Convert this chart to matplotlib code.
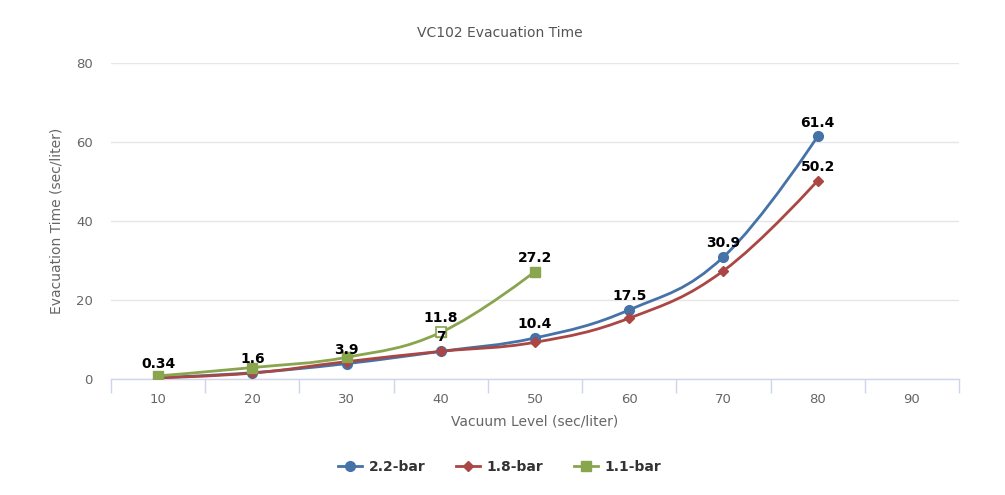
import matplotlib
matplotlib.use("Agg")

import matplotlib.pyplot as plt
from matplotlib.path import Path
from matplotlib.patches import PathPatch
from matplotlib.lines import Line2D

# Categories on the x axis (vacuum level)
CATEGORIES = ["10", "20", "30", "40", "50", "60", "70", "80", "90"]

# Series values (evacuation time, sec/liter)
SERIES_NAMES = ["2.2-bar", "1.8-bar", "1.1-bar"]
VALUES_22 = [0.34, 1.6, 3.9, 7, 10.4, 17.5, 30.9, 61.4]
VALUES_18 = [0.3, 1.5, 4.4, 7, 9.3, 15.4, 27.4, 50.2]
VALUES_11 = [0.8, 2.9, 5.5, 11.8, 27.2]

# Which points show their data label (the others are hidden by overlap)
LABELS_22 = [0, 1, 2, 3, 4, 5, 6, 7]
LABELS_18 = [7]
LABELS_11 = [3, 4]

COLORS = ["#4572A7", "#AA4643", "#89A54E"]
MARKERS = ["o", "D", "s"]
MARKER_SIZES = [7, 5, 6.5]

TITLE = "VC102 Evacuation Time"
X_TITLE = "Vacuum Level (sec/liter)"
Y_TITLE = "Evacuation Time (sec/liter)"
Y_TICKS = [0, 20, 40, 60, 80]


def spline_path(xs, ys, smoothing=1.5):
    """Bezier path through the points, in the same style as a Highcharts spline."""
    denom = smoothing + 1
    n = len(xs)
    left = [(xs[i], ys[i]) for i in range(n)]
    right = [(xs[i], ys[i]) for i in range(n)]
    for i in range(1, n - 1):
        lx = (smoothing * xs[i] + xs[i - 1]) / denom
        ly = (smoothing * ys[i] + ys[i - 1]) / denom
        rx = (smoothing * xs[i] + xs[i + 1]) / denom
        ry = (smoothing * ys[i] + ys[i + 1]) / denom
        if rx != lx:
            corr = (ry - ly) * (rx - xs[i]) / (rx - lx) + ys[i] - ry
            ly += corr
            ry += corr
        hi = max(ys[i - 1], ys[i])
        lo = min(ys[i - 1], ys[i])
        if ly > hi:
            ly = hi
            ry = 2 * ys[i] - ly
        elif ly < lo:
            ly = lo
            ry = 2 * ys[i] - ly
        hi = max(ys[i + 1], ys[i])
        lo = min(ys[i + 1], ys[i])
        if ry > hi:
            ry = hi
            ly = 2 * ys[i] - ry
        elif ry < lo:
            ry = lo
            ly = 2 * ys[i] - ry
        left[i] = (lx, ly)
        right[i] = (rx, ry)

    verts = [(xs[0], ys[0])]
    codes = [Path.MOVETO]
    for i in range(1, n):
        verts += [right[i - 1], left[i], (xs[i], ys[i])]
        codes += [Path.CURVE4] * 3
    return Path(verts, codes)


fig = plt.figure(figsize=(10.05, 4.95), dpi=100)
ax = fig.add_axes([0.1104, 0.2343, 0.8438, 0.6384])

plt.rcParams["font.family"] = ["DejaVu Sans"]

all_values = [VALUES_22, VALUES_18, VALUES_11]
all_labels = [LABELS_22, LABELS_18, LABELS_11]

handles = []
for values, labels, color, marker, ms, name in zip(
        all_values, all_labels, COLORS, MARKERS, MARKER_SIZES, SERIES_NAMES):
    xs = list(range(len(values)))
    patch = PathPatch(spline_path(xs, values), facecolor="none",
                      edgecolor=color, lw=2, zorder=3, capstyle="round")
    ax.add_patch(patch)
    ax.plot(xs, values, linestyle="none", marker=marker, markersize=ms,
            color=color, markeredgecolor=color, zorder=4)
    for i in labels:
        ax.annotate(f"{values[i]:g}", (xs[i], values[i]), xytext=(0, 5),
                    textcoords="offset points", ha="center", va="bottom",
                    fontsize=10, fontweight="bold", color="#000000", zorder=5)
    handles.append(Line2D([0], [0], color=color, lw=2, marker=marker,
                          markersize=ms, markeredgecolor=color))

# hovered point on the 1.1-bar series is drawn hollow
ax.plot([3], [VALUES_11[3]], linestyle="none", marker="s", markersize=6.5,
        markerfacecolor="white", markeredgecolor=COLORS[2],
        markeredgewidth=1.2, zorder=4)

ax.set_xlim(-0.5, len(CATEGORIES) - 0.5)
ax.set_ylim(0, 80)
ax.set_xticks(range(len(CATEGORIES)))
ax.set_xticklabels(CATEGORIES)
ax.set_xticks([i - 0.5 for i in range(len(CATEGORIES) + 1)], minor=True)
ax.tick_params(axis="x", which="major", length=0, pad=10,
               labelsize=9.5, labelcolor="#666666")
ax.tick_params(axis="x", which="minor", length=10, width=1, color="#ccd6eb")
ax.set_yticks(Y_TICKS)
ax.tick_params(axis="y", length=0, pad=13, labelsize=9.5, labelcolor="#666666")

ax.grid(axis="y", color="#e6e6e6", lw=1)
ax.set_axisbelow(True)
for side in ["top", "right", "left"]:
    ax.spines[side].set_visible(False)
ax.spines["bottom"].set_color("#ccd6eb")
ax.spines["bottom"].set_linewidth(1)

ax.set_xlabel(X_TITLE, fontsize=10, color="#666666", labelpad=6)
ax.set_ylabel(Y_TITLE, fontsize=10, color="#666666", labelpad=9)

fig.text(0.4975, 0.933, TITLE, ha="center", va="center",
         fontsize=10, color="#555555")

leg = fig.legend(handles, SERIES_NAMES, loc="center", ncol=3,
                 bbox_to_anchor=(0.4975, 0.057), frameon=False,
                 handlelength=1.7, columnspacing=2.2, handletextpad=0.5,
                 numpoints=1)
for t in leg.get_texts():
    t.set_fontweight("bold")
    t.set_fontsize(10)
    t.set_color("#333333")

fig.savefig("out.png", dpi=100)
